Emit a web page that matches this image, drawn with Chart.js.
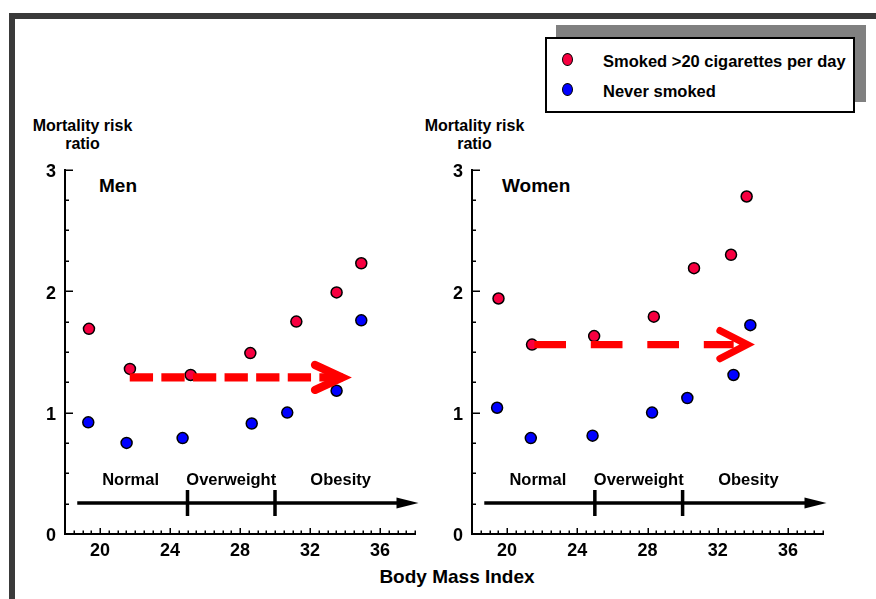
<!DOCTYPE html>
<html>
<head>
<meta charset="utf-8">
<script src="https://cdn.jsdelivr.net/npm/chart.js@4.4.1/dist/chart.umd.min.js"></script>
<style>
  body { margin: 0; width: 876px; height: 599px; background: #fff; position: relative; overflow: hidden;
         font-family: "Liberation Sans", Arial, sans-serif; font-weight: bold; color: #000; }
  .frame { position: absolute; left: 9px; top: 13px; width: 900px; height: 620px;
           border-top: 6px solid #3a3a3a; border-left: 6px solid #3a3a3a; }
  canvas { position: absolute; top: 150px; }
  .txt { position: absolute; white-space: nowrap; line-height: 1; }
  .ytitle { font-size: 16px; line-height: 18.3px; text-align: center; transform: translateX(-50%); top: 117px; }
  .panel { font-size: 19px; top: 176px; }
  .shadow { position: absolute; left: 556px; top: 25px; width: 310px; height: 77px; background: #808080; }
  .legend { position: absolute; left: 545px; top: 37px; width: 310px; height: 76px; box-sizing: border-box;
            background: #fff; border: 2px solid #000; }
  .ltxt { font-size: 16.5px; left: 603px; }
  .dot { position: absolute; width: 9px; height: 11px; border: 1.5px solid #000; border-radius: 50%; }
</style>
</head>
<body>
<div class="frame"></div>
<div class="shadow"></div>
<div class="legend"></div>
<div class="dot" style="left:562px; top:53px; background:#f70040;"></div>
<div class="txt ltxt" style="top:53px;">Smoked &gt;20 cigarettes per day</div>
<div class="dot" style="left:562px; top:83px; background:#0000ff;"></div>
<div class="txt ltxt" style="top:83px;">Never smoked</div>

<div class="txt ytitle" style="left:82.5px;">Mortality risk<br>ratio</div>
<div class="txt ytitle" style="left:474.5px;">Mortality risk<br>ratio</div>
<div class="txt panel" style="left:99px;">Men</div>
<div class="txt panel" style="left:502px;">Women</div>
<div class="txt" style="font-size:19px; top:567px; left:457px; transform:translateX(-50%);">Body Mass Index</div>

<canvas id="men" width="430" height="420" style="left:0px;"></canvas>
<canvas id="women" width="446" height="420" style="left:430px;"></canvas>

<script>
// axis ticks
const xTicks = [20, 24, 28, 32, 36];
const yTicks = [0, 1, 2, 3];

// men
const menSmokedBmi = [19.37, 21.71, 25.18, 28.59, 31.22, 33.52, 34.93];
const menSmokedRisk = [1.69, 1.36, 1.31, 1.49, 1.75, 1.99, 2.23];
const menNeverBmi = [19.33, 21.52, 24.72, 28.67, 30.70, 33.52, 34.93];
const menNeverRisk = [0.92, 0.75, 0.79, 0.91, 1.00, 1.18, 1.76];

// women
const womenSmokedBmi = [19.51, 21.42, 24.96, 28.36, 30.65, 32.76, 33.65];
const womenSmokedRisk = [1.94, 1.56, 1.63, 1.79, 2.19, 2.30, 2.78];
const womenNeverBmi = [19.43, 21.35, 24.87, 28.26, 30.27, 32.90, 33.86];
const womenNeverRisk = [1.04, 0.79, 0.81, 1.00, 1.12, 1.31, 1.72];

// dashed "shift" arrows: shaft start, shaft end, tip (BMI) and level (ratio)
const menShift = [21.7, 33.95, 34.4];
const menShiftLevel = 1.29;
const womenShift = [21.55, 32.91, 34.24];
const womenShiftLevel = 1.56;

// BMI categories
const categoryNames = ['Normal', 'Overweight', 'Obesity'];
const categoryEdges = [18.5, 25, 30, 37.5];
const categoryArrow = [18.7, 38.2];
const categoryLevel = 0.255;
const categoryLabelLevel = 0.40;

const RED = '#f70040';
const BLUE = '#0000ff';
const FONT = '"Liberation Sans", Arial, sans-serif';

const toPoints = (xs, ys) => xs.map((x, i) => ({ x: x, y: ys[i] }));

// inward axis ticks, category bar, arrow heads
const decor = {
  id: 'decor',
  afterDatasetsDraw(chart, args, opts) {
    const { ctx, chartArea } = chart;
    const x = chart.scales.x, y = chart.scales.y;
    ctx.save();

    // minor / major ticks pointing into the plot
    ctx.strokeStyle = '#000';
    ctx.lineWidth = 1.5;
    ctx.beginPath();
    for (let v = x.min; v <= x.max + 1e-6; v += 0.5) {
      const px = Math.round(x.getPixelForValue(v)) + 0.25;
      const len = xTicks.includes(v) ? 6 : 3.5;
      ctx.moveTo(px, chartArea.bottom);
      ctx.lineTo(px, chartArea.bottom - len);
    }
    for (let v = y.min; v <= y.max + 1e-6; v += 0.25) {
      const py = Math.round(y.getPixelForValue(v)) + 0.25;
      const len = yTicks.includes(v) ? 8 : 4;
      ctx.moveTo(chartArea.left, py);
      ctx.lineTo(chartArea.left + len, py);
    }
    ctx.stroke();

    // BMI category arrow
    const cy = y.getPixelForValue(categoryLevel);
    const cx0 = x.getPixelForValue(categoryArrow[0]);
    const cx1 = x.getPixelForValue(categoryArrow[1]);
    ctx.lineWidth = 3.5;
    ctx.beginPath();
    ctx.moveTo(cx0, cy);
    ctx.lineTo(cx1 - 18, cy);
    ctx.stroke();
    ctx.fillStyle = '#000';
    ctx.beginPath();
    ctx.moveTo(cx1, cy);
    ctx.lineTo(cx1 - 22, cy - 5.5);
    ctx.lineTo(cx1 - 22, cy + 5.5);
    ctx.closePath();
    ctx.fill();
    ctx.beginPath();
    categoryEdges.slice(1, -1).forEach(e => {
      const ex = x.getPixelForValue(e);
      ctx.moveTo(ex, cy - 13);
      ctx.lineTo(ex, cy + 13);
    });
    ctx.stroke();

    ctx.font = 'bold 16.5px ' + FONT;
    ctx.textAlign = 'center';
    ctx.textBaseline = 'alphabetic';
    const ly = y.getPixelForValue(categoryLabelLevel);
    categoryNames.forEach((name, i) => {
      const mid = (categoryEdges[i] + categoryEdges[i + 1]) / 2;
      ctx.fillText(name, x.getPixelForValue(mid), ly);
    });

    // open chevron at the end of the dashed arrow
    const tx = x.getPixelForValue(opts.tip) - 10;
    const ty = y.getPixelForValue(opts.level);
    ctx.strokeStyle = '#ff0000';
    ctx.lineWidth = opts.width;
    ctx.lineCap = 'round';
    ctx.lineJoin = 'miter';
    ctx.beginPath();
    ctx.moveTo(tx - 27, ty - opts.spread);
    ctx.lineTo(tx, ty);
    ctx.lineTo(tx - 27, ty + opts.spread);
    ctx.stroke();
    ctx.restore();
  }
};

function makePanel(id, smokedBmi, smokedRisk, neverBmi, neverRisk, shift, level, dash, width, spread, axisWidth, rightPad) {
  const tickFont = { family: FONT, size: 18, weight: 'bold' };
  return new Chart(document.getElementById(id), {
    type: 'scatter',
    data: {
      datasets: [
        {
          data: [{ x: shift[0], y: level }, { x: shift[1], y: level }],
          showLine: true,
          borderColor: '#ff0000',
          borderWidth: width,
          borderDash: dash,
          borderCapStyle: 'butt',
          pointRadius: 0,
          order: 0
        },
        {
          label: 'Smoked >20 cigarettes per day',
          data: toPoints(smokedBmi, smokedRisk),
          backgroundColor: RED,
          borderColor: '#000',
          borderWidth: 1.5,
          pointRadius: 5.5,
          order: 1
        },
        {
          label: 'Never smoked',
          data: toPoints(neverBmi, neverRisk),
          backgroundColor: BLUE,
          borderColor: '#000',
          borderWidth: 1.5,
          pointRadius: 5.5,
          order: 2
        }
      ]
    },
    options: {
      responsive: false,
      animation: false,
      layout: { padding: { top: 18, right: rightPad, left: 0, bottom: 0 } },
      plugins: {
        legend: { display: false },
        tooltip: { enabled: false },
        decor: { tip: shift[2], level: level, width: width, spread: spread }
      },
      scales: {
        x: {
          type: 'linear',
          min: 18,
          max: 38,
          afterBuildTicks: s => { s.ticks = xTicks.map(v => ({ value: v })); },
          afterFit: s => { s.height = 36; },
          grid: { drawOnChartArea: false, drawTicks: false },
          border: { display: true, color: '#000', width: 2 },
          ticks: { color: '#000', font: tickFont, padding: 6, maxRotation: 0, autoSkip: false }
        },
        y: {
          type: 'linear',
          min: 0,
          max: 3,
          afterBuildTicks: s => { s.ticks = yTicks.map(v => ({ value: v })); },
          afterFit: s => { s.width = axisWidth; },
          grid: { drawOnChartArea: false, drawTicks: false },
          border: { display: true, color: '#000', width: 2 },
          ticks: { color: '#000', font: tickFont, padding: 9, labelOffset: 2.5 }
        }
      }
    },
    plugins: [decor]
  });
}

makePanel('men', menSmokedBmi, menSmokedRisk, menNeverBmi, menNeverRisk,
  menShift, menShiftLevel, [23.3, 8.3], 8.3, 12.5, 65, 15);
makePanel('women', womenSmokedBmi, womenSmokedRisk, womenNeverBmi, womenNeverRisk,
  womenShift, womenShiftLevel, [31.7, 24.8], 7.3, 14, 42, 53);
</script>
</body>
</html>
